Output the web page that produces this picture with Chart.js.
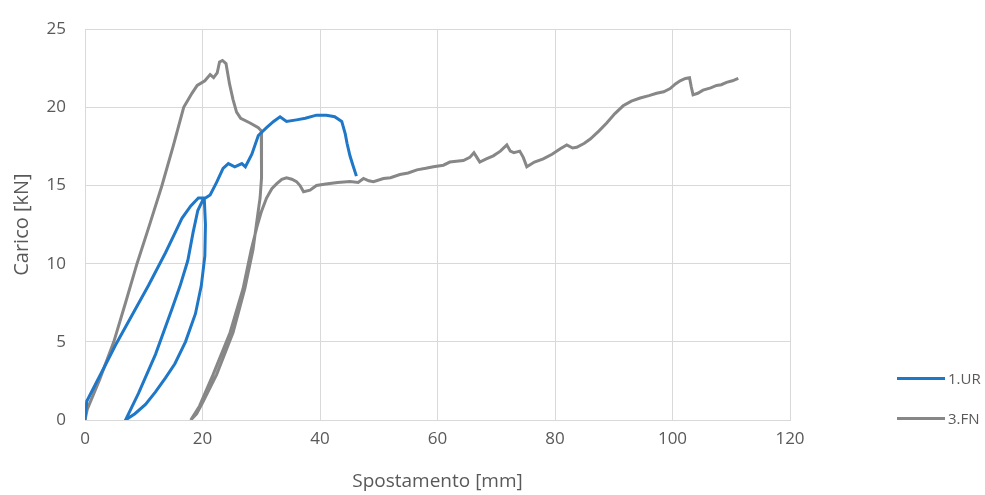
<!DOCTYPE html>
<html>
<head>
<meta charset="utf-8">
<script src="https://cdn.jsdelivr.net/npm/chart.js@4.4.0/dist/chart.umd.min.js"></script>
<style>
  html, body { margin: 0; padding: 0; background: #fff; }
  #wrap { position: relative; width: 985px; height: 495px; }
  #legend { position: absolute; left: 897px; top: 366px; font-family: 'Open Sans', sans-serif; font-size: 15px; color: #595959; }
  .item { display: flex; align-items: center; height: 24px; margin-bottom: 16px; }
  .swatch { width: 48px; height: 3px; margin-right: 3px; }
</style>
</head>
<body>
<div id="wrap">
  <canvas id="chart" width="985" height="495"></canvas>
  <div id="legend"></div>
</div>
<script>
// ── Data ────────────────────────────────────────────────────
const seriesNames = ['1.UR', '3.FN'];
const xTicks = [0, 20, 40, 60, 80, 100, 120];
const yTicks = [0, 5, 10, 15, 20, 25];

// 1.UR — displacement [mm] / load [kN]
const urX = [0, 0.3, 2.9, 5.2, 8.0, 10.8, 13.7, 15.1, 16.5, 18.0, 19.3, 20.3,
  20.5, 20.4, 19.8, 18.8, 17.1, 15.3, 13.7, 12.0, 10.3, 8.5, 6.9,
  9.1, 12.0, 14.8, 16.2, 17.5, 18.4, 19.2, 20.1,
  21.3, 22.4, 23.5, 24.4, 25.5, 26.7, 27.3, 28.4, 29.5, 30.9, 32.1, 33.2, 34.3, 36.0,
  37.5, 39.4, 41.1, 42.5, 43.7, 44.3, 44.6, 45.1, 45.6, 46.2];
const urY = [0, 1.2, 3.1, 4.8, 6.7, 8.6, 10.7, 11.8, 12.9, 13.7, 14.2, 14.2,
  12.5, 10.5, 8.6, 6.8, 5.0, 3.6, 2.7, 1.8, 1.0, 0.4, 0,
  1.7, 4.2, 7.1, 8.6, 10.2, 12.0, 13.4, 14.1,
  14.4, 15.2, 16.1, 16.4, 16.2, 16.4, 16.2, 17.0, 18.2, 18.7, 19.1, 19.4, 19.1, 19.2,
  19.3, 19.5, 19.5, 19.4, 19.1, 18.3, 17.7, 16.9, 16.3, 15.6];

// 3.FN
const fnX = [0, 0.4, 2.5, 4.9, 6.9, 8.85, 11.0, 13.1, 15.0, 16.8, 18.2, 19.1, 20.4, 21.3, 21.9,
  22.5, 22.9, 23.4, 24.0, 24.6, 25.2, 25.8, 26.5, 28.1, 29.5, 30.0,
  30.1, 30.0, 29.8, 29.5, 28.6, 27.2, 25.2, 22.4, 20.0, 19.0, 18.0,
  19.5, 21.8, 24.7, 26.9, 28.3, 29.3, 30.0, 30.9, 31.8, 32.6, 33.5, 34.3, 35.2,
  36.0, 36.6, 37.2, 38.3, 39.4, 41.0, 43.0, 45.1, 46.5, 47.4, 48.3, 49.1, 50.8, 52.0,
  53.6, 55.0, 56.5, 58.0, 59.3, 61.0, 62.1, 63.2, 64.4, 65.5, 66.2, 66.7, 67.2, 68.3,
  69.5, 70.7, 71.8, 72.4, 73.0, 74.0, 74.6, 75.2, 76.5, 78.0, 79.5, 80.9, 82.0, 83.0,
  83.7, 85.0, 86.0, 87.5, 88.8, 90.2, 91.6, 93.0, 94.5, 96.0, 97.3, 98.5, 99.6, 100.5,
  101.3, 102.2, 102.9, 103.2, 103.5, 104.3, 105.2, 106.5, 107.5, 108.3, 109.2, 110.2, 111.2];
const fnY = [0, 0.7, 2.6, 5.0, 7.5, 10.0, 12.5, 15.0, 17.5, 20.0, 20.9, 21.4, 21.7, 22.1, 21.9,
  22.2, 22.9, 23.0, 22.8, 21.5, 20.5, 19.7, 19.3, 19.0, 18.7, 18.5,
  17.0, 15.5, 14.2, 13.4, 10.9, 8.4, 5.6, 2.9, 1.1, 0.4, 0,
  0.9, 2.9, 5.6, 8.4, 10.9, 12.4, 13.3, 14.2, 14.8, 15.1, 15.4, 15.5, 15.4,
  15.25, 15.0, 14.6, 14.7, 15.0, 15.1, 15.2, 15.25, 15.2, 15.45, 15.3, 15.25, 15.45, 15.5,
  15.7, 15.8, 16.0, 16.1, 16.2, 16.3, 16.5, 16.55, 16.6, 16.8, 17.1, 16.8, 16.5, 16.7,
  16.9, 17.2, 17.6, 17.2, 17.1, 17.2, 16.8, 16.2, 16.5, 16.7, 17.0, 17.35, 17.6, 17.4,
  17.45, 17.7, 17.97, 18.5, 19.0, 19.6, 20.1, 20.4, 20.6, 20.75, 20.9, 21.0, 21.2, 21.5,
  21.7, 21.85, 21.9, 21.3, 20.8, 20.9, 21.1, 21.25, 21.4, 21.45, 21.6, 21.7, 21.85];

const BLUE = '#1f77c8';
const GREY = '#878787';
const TEXT = '#595959';
const GRID = '#d9d9d9';

const toPoints = (xs, ys) => xs.map((x, i) => ({ x, y: ys[i] }));

const chart = new Chart(document.getElementById('chart'), {
    type: 'scatter',
    data: {
        datasets: [
            { label: seriesNames[0], data: toPoints(urX, urY), borderColor: BLUE, backgroundColor: BLUE,
              showLine: true, borderWidth: 3, pointRadius: 0, tension: 0 },
            { label: seriesNames[1], data: toPoints(fnX, fnY), borderColor: GREY, backgroundColor: GREY,
              showLine: true, borderWidth: 3, pointRadius: 0, tension: 0 },
        ],
    },
    options: {
        responsive: false,
        animation: false,
        layout: { padding: { top: 21, right: 195, left: 0, bottom: 0 } },
        plugins: { legend: { display: false }, tooltip: { enabled: false } },
        scales: {
            x: {
                type: 'linear', min: 0, max: 120,
                afterBuildTicks: s => { s.ticks = xTicks.map(v => ({ value: v })); },
                afterFit: s => { s.height = 75; },
                grid: { color: GRID, drawTicks: false },
                border: { color: GRID },
                ticks: { padding: 9, color: TEXT, font: { family: 'Open Sans', size: 17 } },
                title: { display: true, text: 'Spostamento [mm]', color: TEXT,
                         font: { family: 'Open Sans', size: 19 }, padding: { top: 0, bottom: 2 } },
            },
            y: {
                type: 'linear', min: 0, max: 25,
                afterBuildTicks: s => { s.ticks = yTicks.map(v => ({ value: v })); },
                afterFit: s => { s.width = 85; },
                grid: { color: GRID, drawTicks: false },
                border: { color: GRID },
                ticks: { padding: 19, color: TEXT, font: { family: 'Open Sans', size: 17 } },
                title: { display: true, text: 'Carico [kN]', color: TEXT,
                         font: { family: 'Open Sans', size: 20 }, padding: { top: 10, bottom: 0 } },
            },
        },
    },
});

// ── HTML legend built from the datasets ─────────────────────
const legend = document.getElementById('legend');
chart.data.datasets.forEach(ds => {
    const row = document.createElement('div');
    row.className = 'item';
    const sw = document.createElement('span');
    sw.className = 'swatch';
    sw.style.background = ds.borderColor;
    const txt = document.createElement('span');
    txt.textContent = ds.label;
    row.appendChild(sw);
    row.appendChild(txt);
    legend.appendChild(row);
});
</script>
</body>
</html>
